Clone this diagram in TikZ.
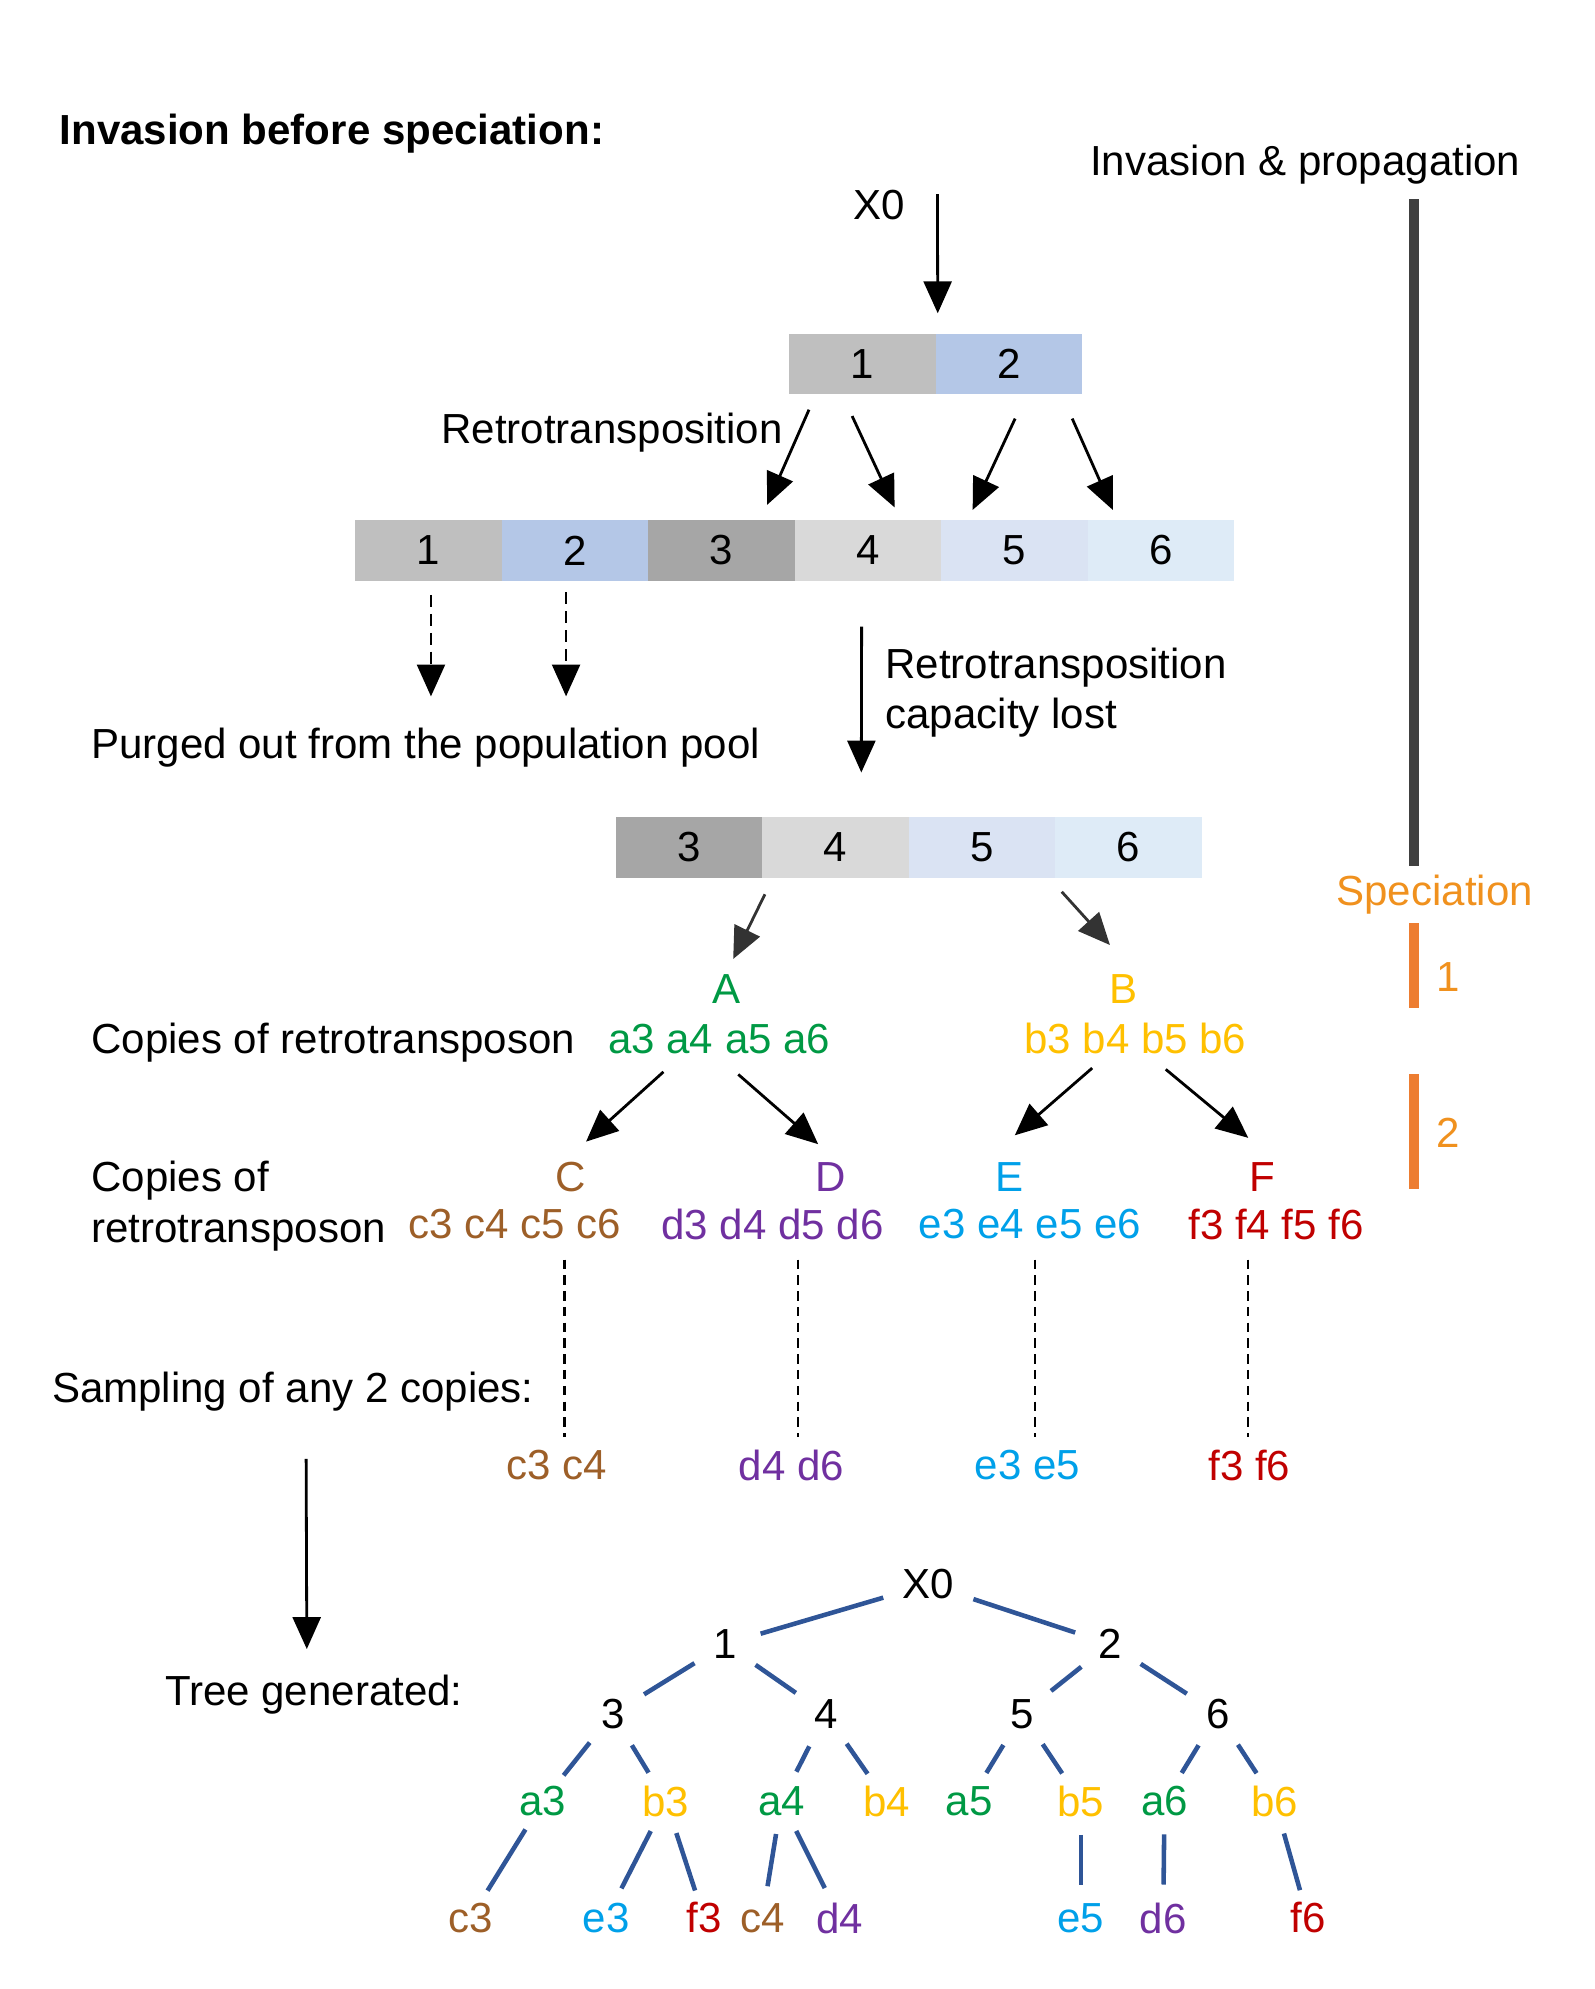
\documentclass[tikz,border=0pt]{standalone}
\usepackage{fontspec}
\setmainfont{Liberation Sans}
\usetikzlibrary{arrows.meta,positioning}

\definecolor{cellA}{RGB}{191,191,191}
\definecolor{cellB}{RGB}{180,199,231}
\definecolor{cellC}{RGB}{166,166,166}
\definecolor{cellD}{RGB}{217,217,217}
\definecolor{cellE}{RGB}{218,227,243}
\definecolor{cellF}{RGB}{222,235,247}
\definecolor{copyA}{RGB}{0,153,68}
\definecolor{copyB}{RGB}{255,192,0}
\definecolor{copyC}{RGB}{157,95,40}
\definecolor{copyD}{RGB}{112,48,160}
\definecolor{copyE}{RGB}{0,160,233}
\definecolor{copyF}{RGB}{192,0,0}
\definecolor{specText}{RGB}{240,145,30}
\definecolor{specBar}{RGB}{237,125,49}
\definecolor{barGray}{RGB}{64,64,64}
\definecolor{treeBlue}{RGB}{47,85,151}

\def\px{0.01273cm}

\tikzset{
  cell/.style={minimum width=115.5*\px,minimum height=48*\px,inner sep=0pt,outer sep=0pt},
  lbl/.style={inner sep=2pt},
  arr/.style={-{Triangle[length=3.2mm,width=2.8mm]},line width=0.8pt},
  darr/.style={arr,dash pattern=on 3.4pt off 2pt},
  dline/.style={line width=0.6pt,dash pattern=on 2.7pt off 1.8pt},
  bar/.style={line width=2.9pt},
  tn/.style={circle,inner sep=3.5pt},
  leaf/.style={circle,inner sep=1pt},
  edge/.style={treeBlue,line width=1.3pt},
}

\begin{document}
\begin{tikzpicture}[x=\px,y=-\px,font=\fontsize{12pt}{14.5pt}\selectfont]
\useasboundingbox (0,0) rectangle (1257,1568);

% headings and the time bar on the right
\node[lbl,anchor=west,font=\fontsize{12pt}{14.5pt}\selectfont\bfseries] (title) at (41,105) {Invasion before speciation:};
\node[lbl] (invprop) at (1029,130) {Invasion \& propagation};
\node[lbl,text=specText] (spec) at (1131,705) {Speciation};
\draw[bar,barGray] (1115,157) -- (1115,683);
\draw[bar,specBar] (1115,728) -- (1115,795);
\draw[bar,specBar] (1115,847) -- (1115,937);
\node[lbl,text=specText] (sp1) at (1142,770) {1};
\node[lbl,text=specText] (sp2) at (1142,893) {2};

% first copies
\node[lbl] (x0) at (693,162) {X0};
\coordinate (x0top) at (739,153);
\node[cell,fill=cellA] (r1c1) at (679.75,287) {1};
\node[cell,fill=cellB,right=0pt of r1c1] (r1c2) {2};
\draw[arr] (x0top) -- ([shift={(1.75,-16)}]r1c1.north east);

% after retrotransposition
\node[lbl,anchor=east] (retro) at (623,341) {Retrotransposition};
\node[cell,fill=cellA] (r2c1) at (337.75,434) {1};
\node[cell,fill=cellB,right=0pt of r2c1] (r2c2) {2};
\node[cell,fill=cellC,right=0pt of r2c2] (r2c3) {3};
\node[cell,fill=cellD,right=0pt of r2c3] (r2c4) {4};
\node[cell,fill=cellE,right=0pt of r2c4] (r2c5) {5};
\node[cell,fill=cellF,right=0pt of r2c5] (r2c6) {6};
\draw[arr] ([shift={(-42,12)}]r1c1.south) -- ([shift={(36,-12)}]r2c3.north);
\draw[arr] ([shift={(-8,17)}]r1c1.south) -- ([shift={(21,-10)}]r2c4.north);
\draw[arr] ([shift={(5,19)}]r1c2.south) -- ([shift={(-33,-8)}]r2c5.north);
\draw[arr] ([shift={(50,19)}]r1c2.south) -- ([shift={(-38,-8)}]r2c6.north);

% purged copies
\node[lbl,anchor=west] (purged) at (66,589) {Purged out from the population pool};
\draw[darr] ([shift={(2,11)}]r2c1.south) -- ++(0,80);
\draw[darr] ([shift={(-7,9)}]r2c2.south) -- ++(0,82);

% capacity lost
\node[lbl,anchor=west,align=left] (lost) at (692,546) {Retrotransposition\\capacity lost};
\node[cell,fill=cellC] (r3c3) at (543,668) {3};
\node[cell,fill=cellD,right=0pt of r3c3] (r3c4) {4};
\node[cell,fill=cellE,right=0pt of r3c4] (r3c5) {5};
\node[cell,fill=cellF,right=0pt of r3c5] (r3c6) {6};
\draw[arr] ([shift={(-5,36)}]r2c4.south) -- ([shift={(20.5,-35)}]r3c4.north);

% speciation 1
\node[lbl,text=copyA] (A) at (573,780) {A};
\node[lbl,text=copyB] (B) at (886,780) {B};
\draw[arr,black!80] ([shift={(60,13)}]r3c3.south) -- ([shift={(5,-24)}]A.center);
\draw[arr,black!80] ([shift={(63,11)}]r3c5.south) -- ([shift={(-11,-35)}]B.center);
\node[lbl,anchor=west] (copies1) at (66,822) {Copies of retrotransposon};
\node[lbl,text=copyA] (as) at (567,819) {a3 a4 a5 a6};
\node[lbl,text=copyB] (bs) at (895,819) {b3 b4 b5 b6};

% speciation 2
\node[lbl,text=copyC] (C) at (450,928) {C};
\node[lbl,text=copyD] (D) at (655,928) {D};
\node[lbl,text=copyE] (E) at (796,928) {E};
\node[lbl,text=copyF] (F) at (995,928) {F};
\draw[arr] ([shift={(-44,26)}]as.center) -- ([shift={(12,-28)}]C.center);
\draw[arr] ([shift={(15,28)}]as.center) -- ([shift={(-10,-26)}]D.center);
\draw[arr] ([shift={(-34,23)}]bs.center) -- ([shift={(4,-33)}]E.center);
\draw[arr] ([shift={(24,24)}]bs.center) -- ([shift={(-11,-31)}]F.center);
\node[lbl,anchor=west,align=left] (copies2) at (66,951) {Copies of\\retrotransposon};
\node[lbl,text=copyC] (cs) at (406,965) {c3 c4 c5 c6};
\node[lbl,text=copyD] (ds) at (609,965) {d3 d4 d5 d6};
\node[lbl,text=copyE] (es) at (812,965) {e3 e4 e5 e6};
\node[lbl,text=copyF] (fs) at (1006,965) {f3 f4 f5 f6};

% sampling
\node[lbl,anchor=west] (sampling) at (35,1097) {Sampling of any 2 copies:};
\node[lbl,text=copyC] (cpair) at (439,1155) {c3 c4};
\node[lbl,text=copyD] (dpair) at (624,1155) {d4 d6};
\node[lbl,text=copyE] (epair) at (810,1155) {e3 e5};
\node[lbl,text=copyF] (fpair) at (985,1155) {f3 f6};
\draw[dline] ([shift={(39,28)}]cs.center) -- ([shift={(6,-22)}]cpair.center);
\draw[dline] ([shift={(20,28)}]ds.center) -- ([shift={(5,-22)}]dpair.center);
\draw[dline] ([shift={(4,28)}]es.center) -- ([shift={(6,-22)}]epair.center);
\draw[dline] ([shift={(-22,28)}]fs.center) -- ([shift={(-1,-22)}]fpair.center);

% tree
\node[lbl,anchor=west] (treegen) at (124,1336) {Tree generated:};
\draw[arr] ([shift={(10.5,53)}]sampling.center) -- ([shift={(-5.5,-36)}]treegen.center);

\node[tn] (n0) at (732,1249) {X0};
\node[tn] (n1) at (572,1296) {1};
\node[tn] (n2) at (875,1296) {2};
\node[tn] (n3) at (483,1351) {3};
\node[tn] (n4) at (651,1351) {4};
\node[tn] (n5) at (806,1351) {5};
\node[tn] (n6) at (960,1351) {6};
\node[leaf,text=copyA] (la3) at (428,1420) {a3};
\node[leaf,text=copyB] (lb3) at (525,1420) {b3};
\node[leaf,text=copyA] (la4) at (616,1420) {a4};
\node[leaf,text=copyB] (lb4) at (699,1420) {b4};
\node[leaf,text=copyA] (la5) at (764,1420) {a5};
\node[leaf,text=copyB] (lb5) at (852,1420) {b5};
\node[leaf,text=copyA] (la6) at (918,1420) {a6};
\node[leaf,text=copyB] (lb6) at (1005,1420) {b6};
\node[leaf,text=copyC] (lc3) at (371,1512) {c3};
\node[leaf,text=copyE] (le3) at (478,1512) {e3};
\node[leaf,text=copyF] (lf3) at (555,1512) {f3};
\node[leaf,text=copyC] (lc4) at (601,1512) {c4};
\node[leaf,text=copyD] (ld4) at (662,1512) {d4};
\node[leaf,text=copyE] (le5) at (852,1512) {e5};
\node[leaf,text=copyD] (ld6) at (917,1512) {d6};
\node[leaf,text=copyF] (lf6) at (1031,1512) {f6};

\draw[edge] (n0) -- (n1);
\draw[edge] (n0) -- (n2);
\draw[edge] (n1) -- (n3);
\draw[edge] (n1) -- (n4);
\draw[edge] (n2) -- (n5);
\draw[edge] (n2) -- (n6);
\draw[edge] (n3) -- (la3);
\draw[edge] (n3) -- (lb3);
\draw[edge] (n4) -- (la4);
\draw[edge] (n4) -- (lb4);
\draw[edge] (n5) -- (la5);
\draw[edge] (n5) -- (lb5);
\draw[edge] (n6) -- (la6);
\draw[edge] (n6) -- (lb6);
\draw[edge] (la3) -- (lc3);
\draw[edge] (lb3) -- (le3);
\draw[edge] (lb3) -- (lf3);
\draw[edge] (la4) -- (lc4);
\draw[edge] (la4) -- (ld4);
\draw[edge] (lb5) -- (le5);
\draw[edge] (la6) -- (ld6);
\draw[edge] (lb6) -- (lf6);
\end{tikzpicture}
\end{document}
